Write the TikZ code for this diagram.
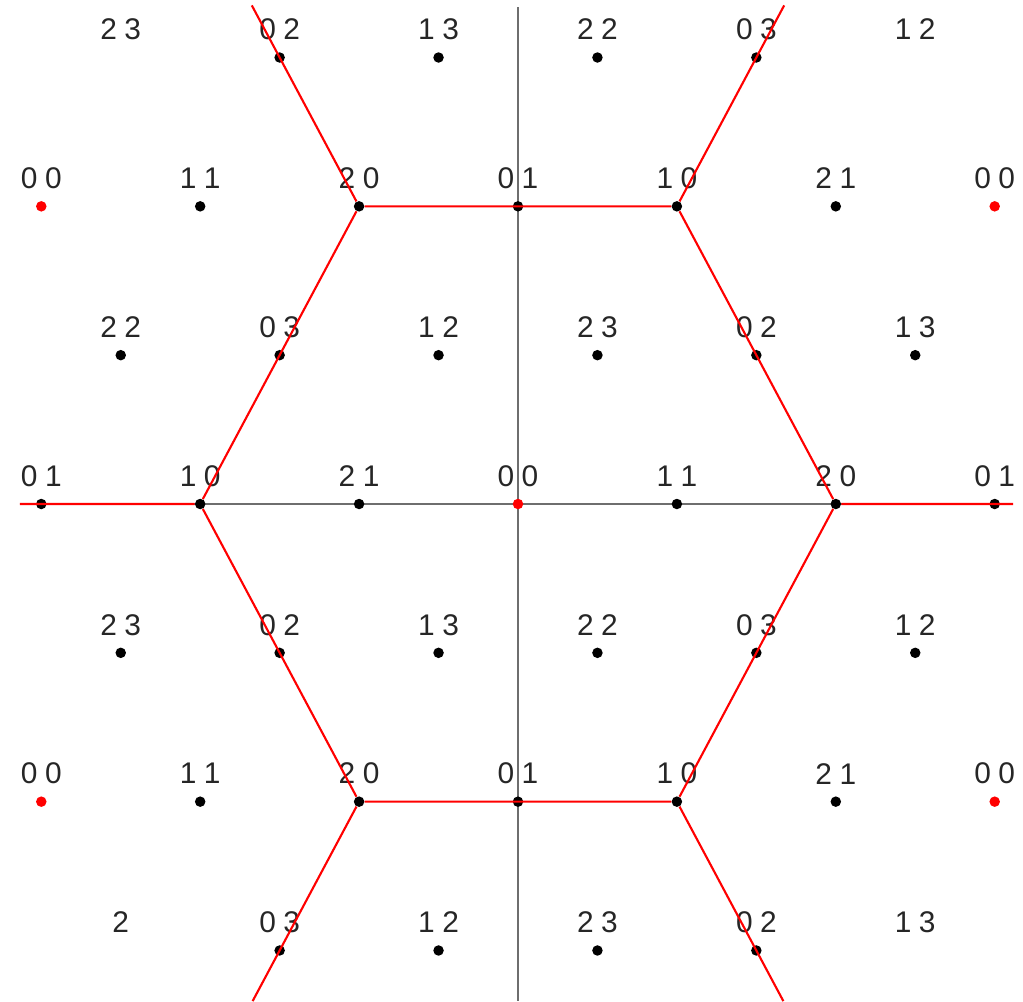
\documentclass[tikz,border=0pt]{standalone}
\usepackage{fontspec}
\usepackage{xcolor}
\usepackage{tikz}
\usetikzlibrary{backgrounds}
\newfontfamily\labfont{Liberation Sans}[WordSpace=0.9]
\definecolor{cAxis}{RGB}{110,110,110}
\definecolor{cWall}{RGB}{255,0,0}

\begin{document}
\begin{tikzpicture}[x=1.589cm,y=2.9766cm,font=\labfont\fontsize{17}{20}\selectfont,
  dot/.style={circle,fill=black,inner sep=0pt,minimum size=0.21cm},
  origin/.style={dot,fill=cWall},
  lab/.style={inner sep=0pt,yshift=0.56cm,text=black!85}]
\useasboundingbox (-10.36cm,-9.94cm) rectangle (10.10cm,10.08cm);
\coordinate (xl) at (-9.96cm,0); \coordinate (xr) at (9.90cm,0);
\coordinate (yt) at (0,9.94cm); \coordinate (yb) at (0,-9.94cm);
\coordinate (tl) at (-3.35,3.35); \coordinate (tr) at (3.35,3.35);
\coordinate (bl) at (-3.34,-3.34); \coordinate (br) at (3.34,-3.34);
% lattice points with their labels
\foreach \i/\j/\t/\s in {
  -3/3/0 2/dot, -1/3/1 3/dot, 1/3/2 2/dot, 3/3/0 3/dot,
  -6/2/0 0/origin, -4/2/1 1/dot, -2/2/2 0/dot, 0/2/0 1/dot, 2/2/1 0/dot, 4/2/2 1/dot, 6/2/0 0/origin,
  -5/1/2 2/dot, -3/1/0 3/dot, -1/1/1 2/dot, 1/1/2 3/dot, 3/1/0 2/dot, 5/1/1 3/dot,
  -6/0/0 1/dot, -4/0/1 0/dot, -2/0/2 1/dot, 0/0/0 0/origin, 2/0/1 1/dot, 4/0/2 0/dot, 6/0/0 1/dot,
  -5/-1/2 3/dot, -3/-1/0 2/dot, -1/-1/1 3/dot, 1/-1/2 2/dot, 3/-1/0 3/dot, 5/-1/1 2/dot,
  -6/-2/0 0/origin, -4/-2/1 1/dot, -2/-2/2 0/dot, 0/-2/0 1/dot, 2/-2/1 0/dot, 4/-2/2 1/dot, 6/-2/0 0/origin,
  -3/-3/0 3/dot, -1/-3/1 2/dot, 1/-3/2 3/dot, 3/-3/0 2/dot}
  \node[\s] (p\i_\j) at (\i,\j) {} node[lab] (t\i_\j) at (\i,\j) {\t};
% labels at the corners, no point drawn
\node[lab] (t-5_3) at (-5,3) {2 3};
\node[lab] (t5_3) at (5,3) {1 2};
\node[lab] (t-5_-3) at (-5,-3) {2};
\node[lab] (t5_-3) at (5,-3) {1 3};
\begin{pgfonlayer}{background}
\draw[cAxis,line width=1pt] (xl)--(xr) (yt)--(yb);
\end{pgfonlayer}
\draw[cWall,line width=1.2pt] (p-2_2)--(p2_2)--(p4_0)--(p2_-2)--(p-2_-2)--(p-4_0)--(p-2_2);
\draw[cWall,line width=1.2pt] (p-2_2)--(tl) (p2_2)--(tr) (p4_0)--(xr)
  (p-4_0)--(xl) (p-2_-2)--(bl) (p2_-2)--(br);
\end{tikzpicture}
\end{document}
